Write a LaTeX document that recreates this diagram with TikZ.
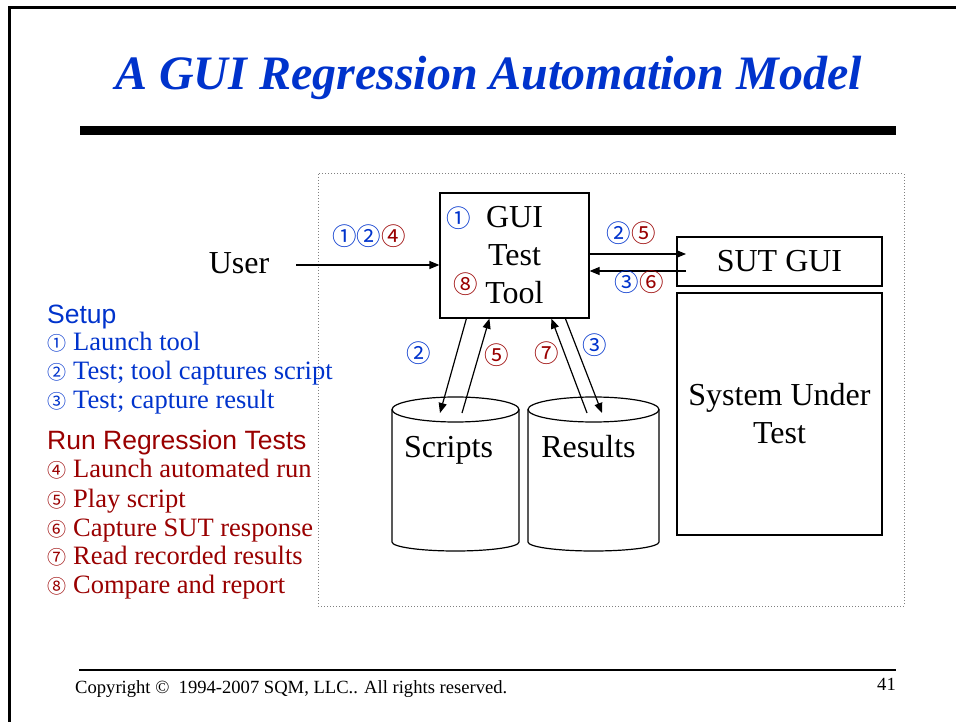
\documentclass[tikz,border=0pt]{standalone}
\usepackage{fontspec}
\setmainfont{Liberation Serif}
\setsansfont{Liberation Sans}
\newfontfamily\circfont{Noto Sans CJK SC}
\usetikzlibrary{arrows.meta}
\definecolor{slideblue}{RGB}{0,51,204}
\definecolor{slidered}{RGB}{153,0,0}

\begin{document}
\begin{tikzpicture}[x=1pt, y=-1pt, >={Triangle[length=10pt,width=8pt]},
    box/.style={draw, line width=1.2pt, inner sep=0pt, align=center, font=\fontsize{32}{38}\selectfont},
    flow/.style={->, line width=1.2pt},
    dbline/.style={line width=1.2pt},
    numtag/.style={inner sep=0pt, font=\circfont\fontsize{24.5}{25}\selectfont},
    listhead/.style={anchor=base west, inner sep=0pt, font=\sffamily\fontsize{26.5}{29}\selectfont},
    listline/.style={anchor=base west, inner sep=0pt, font=\fontsize{26.5}{29}\selectfont}]
    \useasboundingbox (0,0) rectangle (956,722);

    % --- 1. Marco y título ---
    \draw[line width=3pt] (9.5,722) -- (9.5,7.5) -- (956,7.5);
    \node[anchor=base, font=\bfseries\itshape\fontsize{48}{48}\selectfont, text=slideblue] (title) at (488.5,90) {A GUI Regression Automation Model};
    \fill (80,126) rectangle (896,135);
    \draw[gray, dotted, line width=1pt] (318,174) rectangle (904,606);

    % --- 2. Herramienta y sistema bajo prueba ---
    \node[box, minimum width=149pt, minimum height=125pt] (tool) at (514.5,255.5) {GUI\\Test\\Tool};
    \node[box, minimum width=205pt, minimum height=49pt] (sutgui) at (779.5,261.5) {SUT GUI};
    \node[box, minimum width=205pt, minimum height=242pt] (sut) at (779.5,414) {System Under\\Test};
    \node[anchor=base, inner sep=0pt, font=\fontsize{32}{38}\selectfont] (user) at (239,273) {User};

    % Cilindros de datos
    \draw[dbline] (455.5,409.5) ellipse [x radius=63.5, y radius=12.5];
    \draw[dbline] (392,409.5) -- (392,542) arc[start angle=180, end angle=0, x radius=63.5, y radius=9] -- (519,409.5);
    \draw[dbline] (593.5,409.5) ellipse [x radius=65.5, y radius=12.5];
    \draw[dbline] (528,409.5) -- (528,542) arc[start angle=180, end angle=0, x radius=65.5, y radius=9] -- (659,409.5);
    \node[anchor=base, inner sep=0pt, font=\fontsize{32}{38}\selectfont] (scripts) at (448.5,457) {Scripts};
    \node[anchor=base, inner sep=0pt, font=\fontsize{32}{38}\selectfont] (results) at (588.5,457) {Results};

    % --- 3. Flechas ---
    \coordinate (userOut) at (296,265);
    \coordinate (guiIn) at (686,254);
    \coordinate (guiOut) at (686,271);
    \coordinate (scrIn) at (440,413);
    \coordinate (scrOut) at (462,413);
    \coordinate (resOut) at (587,413);
    \coordinate (resIn) at (602,413);
    \draw[flow] (userOut) -- (userOut -| tool.west);
    \draw[flow] (guiIn -| tool.east) -- (guiIn);
    \draw[flow] (guiOut) -- (guiOut -| tool.east);
    \draw[flow] ([xshift=27pt]tool.south west) -- (scrIn);
    \draw[flow] (scrOut) -- ([xshift=50pt]tool.south west);
    \draw[flow] (resOut) -- ([xshift=112pt]tool.south west);
    \draw[flow] ([xshift=126pt]tool.south west) -- (resIn);

    % Números de paso
    \node[numtag] (tagUser) at (369,236) {\textcolor{slideblue}{①②}\textcolor{slidered}{④}};
    \node[numtag] (tagGuiIn) at (631,233) {\textcolor{slideblue}{②}\textcolor{slidered}{⑤}};
    \node[numtag] (tagGuiOut) at (639,282) {\textcolor{slideblue}{③}\textcolor{slidered}{⑥}};
    \node[numtag, text=slideblue] (tagToolA) at (459,218) {①};
    \node[numtag, text=slidered] (tagToolB) at (466,284) {⑧};
    \node[numtag, text=slideblue] (tagScrIn) at (419,353) {②};
    \node[numtag, text=slidered] (tagScrOut) at (497,355) {⑤};
    \node[numtag, text=slidered] (tagResOut) at (547,353) {⑦};
    \node[numtag, text=slideblue] (tagResIn) at (595,345) {③};

    % --- 4. Leyenda ---
    \node[listhead, text=slideblue] (setupHead) at (47,323) {Setup};
    \foreach \n/\txt/\y [count=\i] in {①/Launch tool/350, ②/Test; tool captures script/379, ③/Test; capture result/408}
        \node[listline, text=slideblue] (setup\i) at (47,\y) {\makebox[26pt][l]{\circfont\fontsize{19}{19}\selectfont\n}\txt};
    \node[listhead, text=slidered] (runHead) at (47,449) {Run Regression Tests};
    \foreach \n/\txt/\y [count=\i] in {④/Launch automated run/477, ⑤/Play script/507, ⑥/Capture SUT response/536, ⑦/Read recorded results/564, ⑧/Compare and report/593}
        \node[listline, text=slidered] (run\i) at (47,\y) {\makebox[26pt][l]{\circfont\fontsize{19}{19}\selectfont\n}\txt};

    % --- 5. Pie ---
    \draw[line width=2pt] (79,670) -- (896,670);
    \node[anchor=base west, inner sep=0pt, font=\fontsize{18.6}{20}\selectfont] (copyright) at (75,693) {Copyright ©\ \ 1994-2007 SQM, LLC.. All rights reserved.};
    \node[anchor=base east, inner sep=0pt, font=\fontsize{18.6}{20}\selectfont] (pagenum) at (896,690) {41};
\end{tikzpicture}
\end{document}
